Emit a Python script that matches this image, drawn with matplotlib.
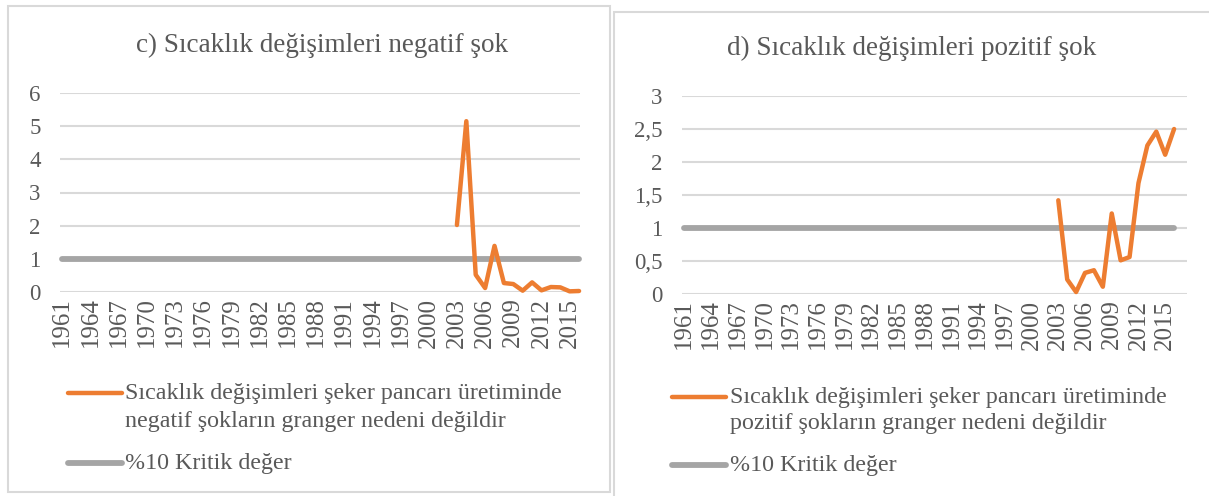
import matplotlib.pyplot as plt
import numpy as np
from matplotlib.lines import Line2D
from matplotlib.patches import Rectangle

# data
years = np.arange(1961, 2017)
tick_years = np.arange(1961, 2016, 3)

neg_years = np.arange(2003, 2017)
neg_values = [2.02, 5.15, 0.52, 0.12, 1.39, 0.27, 0.24, 0.04, 0.29, 0.05,
              0.15, 0.14, 0.02, 0.03]

pos_years = np.arange(2003, 2017)
pos_values = [1.42, 0.22, 0.03, 0.32, 0.36, 0.11, 1.22, 0.51, 0.56, 1.68,
              2.25, 2.46, 2.11, 2.50]

critical = [1.0] * len(years)

neg_yticks = [0, 1, 2, 3, 4, 5, 6]
neg_yticklabels = ["0", "1", "2", "3", "4", "5", "6"]
pos_yticks = [0, 0.5, 1, 1.5, 2, 2.5, 3]
pos_yticklabels = ["0", "0,5", "1", "1,5", "2", "2,5", "3"]

titles = ["c) Sıcaklık değişimleri negatif şok",
          "d) Sıcaklık değişimleri pozitif şok"]
legend_series = ["Sıcaklık değişimleri şeker pancarı üretiminde\nnegatif şokların granger nedeni değildir",
                 "Sıcaklık değişimleri şeker pancarı üretiminde\npozitif şokların granger nedeni değildir"]
legend_crit = "%10 Kritik değer"

ORANGE = '#ED7D31'
GRAY = '#A5A5A5'
GRID = '#D9D9D9'
TXT = '#595959'

W, H = 1209, 496
plt.rcParams['font.family'] = 'serif'
plt.rcParams['font.serif'] = ['Liberation Serif', 'DejaVu Serif']

fig = plt.figure(figsize=(W / 100, H / 100), dpi=100)


def fx(x):
    return x / W


def fy(y):
    return 1 - y / H


def make_axes(x0, x1, y0, y1):
    return fig.add_axes([fx(x0), fy(y1), fx(x1) - fx(x0), fy(y0) - fy(y1)])


# panel borders
fig.add_artist(Rectangle((fx(8), fy(492)), fx(610) - fx(8), fy(6) - fy(492),
                         transform=fig.transFigure, fill=False,
                         edgecolor=GRID, lw=1.5))
fig.add_artist(Rectangle((fx(614), fy(500)), fx(1212) - fx(614), fy(12) - fy(500),
                         transform=fig.transFigure, fill=False,
                         edgecolor=GRID, lw=1.5))

panels = [
    dict(box=(60, 580, 93, 292), xlim=(1960.75, 2016.1), yx=neg_years, yv=neg_values,
         yt=neg_yticks, ytl=neg_yticklabels, ylim=(0, 6), title_xy=(322, 45),
         leg=(68, 122, 125, 393, 421, 463), label=legend_series[0], title=titles[0]),
    dict(box=(682, 1187, 96, 294), xlim=(1960.75, 2017.45), yx=pos_years, yv=pos_values,
         yt=pos_yticks, ytl=pos_yticklabels, ylim=(0, 3), title_xy=(912, 48),
         leg=(672, 726, 730, 397, 424, 465), label=legend_series[1], title=titles[1]),
]

for p in panels:
    ax = make_axes(*p['box'])
    ax.set_xlim(*p['xlim'])
    ax.set_ylim(*p['ylim'])
    ax.set_yticks(p['yt'])
    ax.set_yticklabels(p['ytl'])
    ax.yaxis.grid(True, color=GRID, lw=1.5)
    ax.set_axisbelow(True)
    ax.set_xticks(tick_years)
    ax.set_xticklabels([str(y) for y in tick_years], rotation=90)
    ax.tick_params(length=0, colors=TXT)
    ax.tick_params(axis='x', labelsize=18, pad=4)
    ax.tick_params(axis='y', labelsize=16.5, pad=14)
    for s in ax.spines.values():
        s.set_visible(False)
    ax.plot(years, critical, color=GRAY, lw=4.2, solid_capstyle='round', clip_on=False)
    ax.plot(p['yx'], p['yv'], color=ORANGE, lw=3.2, solid_capstyle='round',
            solid_joinstyle='round', clip_on=False)

    fig.text(fx(p['title_xy'][0]), fy(p['title_xy'][1]), p['title'], ha='center',
             va='center', fontsize=19.5, color=TXT)

    hx0, hx1, tx, y1, y2, y3 = p['leg']
    fig.add_artist(Line2D([fx(hx0), fx(hx1)], [fy(y1), fy(y1)], transform=fig.transFigure,
                          color=ORANGE, lw=3.2, solid_capstyle='round'))
    first, second = p['label'].split('\n')
    fig.text(fx(tx), fy(y1), first, ha='left', va='center', fontsize=17.3, color=TXT)
    fig.text(fx(tx), fy(y2), second, ha='left', va='center', fontsize=17.3, color=TXT)
    fig.add_artist(Line2D([fx(hx0), fx(hx1)], [fy(y3), fy(y3)], transform=fig.transFigure,
                          color=GRAY, lw=4.2, solid_capstyle='round'))
    fig.text(fx(tx), fy(y3), legend_crit, ha='left', va='center', fontsize=17.3, color=TXT)

fig.savefig('out.png', dpi=100)
